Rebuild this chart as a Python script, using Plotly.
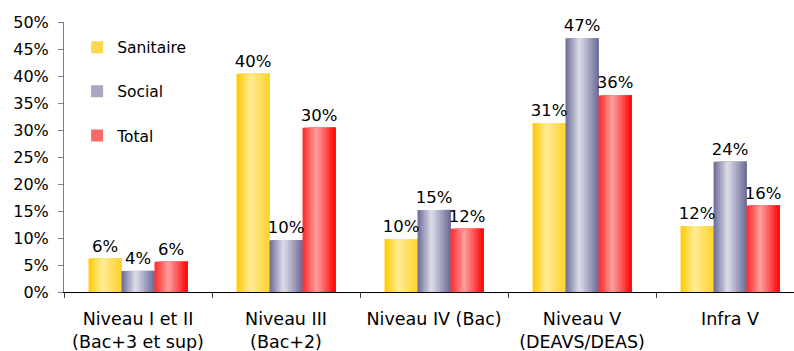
import plotly.graph_objects as go

categories = ["Niveau I et II<br>(Bac+3 et sup)", "Niveau III<br>(Bac+2)", "Niveau IV (Bac)",
              "Niveau V<br>(DEAVS/DEAS)", "Infra V"]
series_names = ["Sanitaire", "Social", "Total"]
sanitaire = [6.2, 40.4, 9.8, 31.3, 12.2]
social = [3.9, 9.6, 15.2, 47.0, 24.1]
total = [5.6, 30.4, 11.7, 36.4, 16.0]
y_ticks = [0, 5, 10, 15, 20, 25, 30, 35, 40, 45, 50]
y_tick_labels = [f"{v}%" for v in y_ticks]

values = [sanitaire, social, total]
# (left edge, centre, right edge) colours for the cylinder-like gradient
grad = [((255, 200, 0), (255, 236, 150), (255, 210, 40)),
        ((105, 105, 150), (222, 222, 234), (105, 105, 150)),
        ((255, 40, 40), (255, 160, 160), (255, 0, 0))]
legend_colors = ["#FFD84A", "#A8A8C4", "#FF6666"]

FONT = "DejaVu Sans"
N = 16
bar_w = 0.223
group_start = -1.5 * bar_w
peak = 0.42


def color_at(t, c):
    l, m, r = c
    if t <= peak:
        f = t / peak
        a, b = l, m
    else:
        f = (t - peak) / (1 - peak)
        a, b = m, r
    rgb = [round(a[i] + (b[i] - a[i]) * f) for i in range(3)]
    return f"rgb({rgb[0]},{rgb[1]},{rgb[2]})"


fig = go.Figure()
for s, name in enumerate(series_names):
    base = group_start + s * bar_w
    sw = bar_w / N
    for k in range(N):
        t = (k + 0.5) / N
        # each slice runs from its start to the bar's right edge; later slices overlay
        fig.add_trace(go.Bar(
            x=categories, y=values[s],
            offset=base + k * sw, width=bar_w - k * sw,
            marker=dict(color=color_at(t, grad[s]), line=dict(width=0)),
            name=name, legendgroup=name, showlegend=False,
            hoverinfo="skip"))
    # legend entry
    fig.add_trace(go.Bar(
        x=categories, y=[0] * len(categories), offset=base, width=bar_w,
        marker=dict(color=legend_colors[s], line=dict(width=0)),
        name=name, legendgroup=name, showlegend=True, hoverinfo="skip"))

# value labels
for s, name in enumerate(series_names):
    base = group_start + s * bar_w
    fig.add_trace(go.Bar(
        x=categories, y=values[s], offset=base, width=bar_w,
        marker=dict(color="rgba(0,0,0,0)", line=dict(width=0)),
        texttemplate="%{y:.0f}%", textposition="outside", constraintext="none",
        textfont=dict(family=FONT, size=16.5, color="black"),
        cliponaxis=False, showlegend=False, hoverinfo="skip"))

fig.update_layout(
    width=794, height=351, autosize=False,
    margin=dict(l=64, r=0, t=22, b=59),
    barmode="overlay",
    paper_bgcolor="white", plot_bgcolor="white",
    font=dict(family=FONT, size=16, color="black"),
    showlegend=True,
    legend=dict(x=0.018, y=0.968, xanchor="left", yanchor="top",
                traceorder="grouped", tracegroupgap=21,
                font=dict(family=FONT, size=15.5, color="black"),
                bgcolor="rgba(0,0,0,0)", itemwidth=30),
    xaxis=dict(type="category", range=[-0.5, 4.432], showgrid=False,
               showline=True, linecolor="black", linewidth=1,
               ticks="outside", tickson="boundaries", ticklen=5, tickcolor="#404040",
               ticklabelstandoff=11,
               tickfont=dict(family=FONT, size=17.5, color="black"), zeroline=False),
    yaxis=dict(range=[0, 50], tickvals=y_ticks, ticktext=y_tick_labels,
               showgrid=False, showline=True, linecolor="#808080", linewidth=1,
               ticks="outside", ticklen=5, tickcolor="#808080",
               ticklabelstandoff=6,
               tickfont=dict(family=FONT, size=16, color="black"), zeroline=False),
)

fig.write_html("out.html")
